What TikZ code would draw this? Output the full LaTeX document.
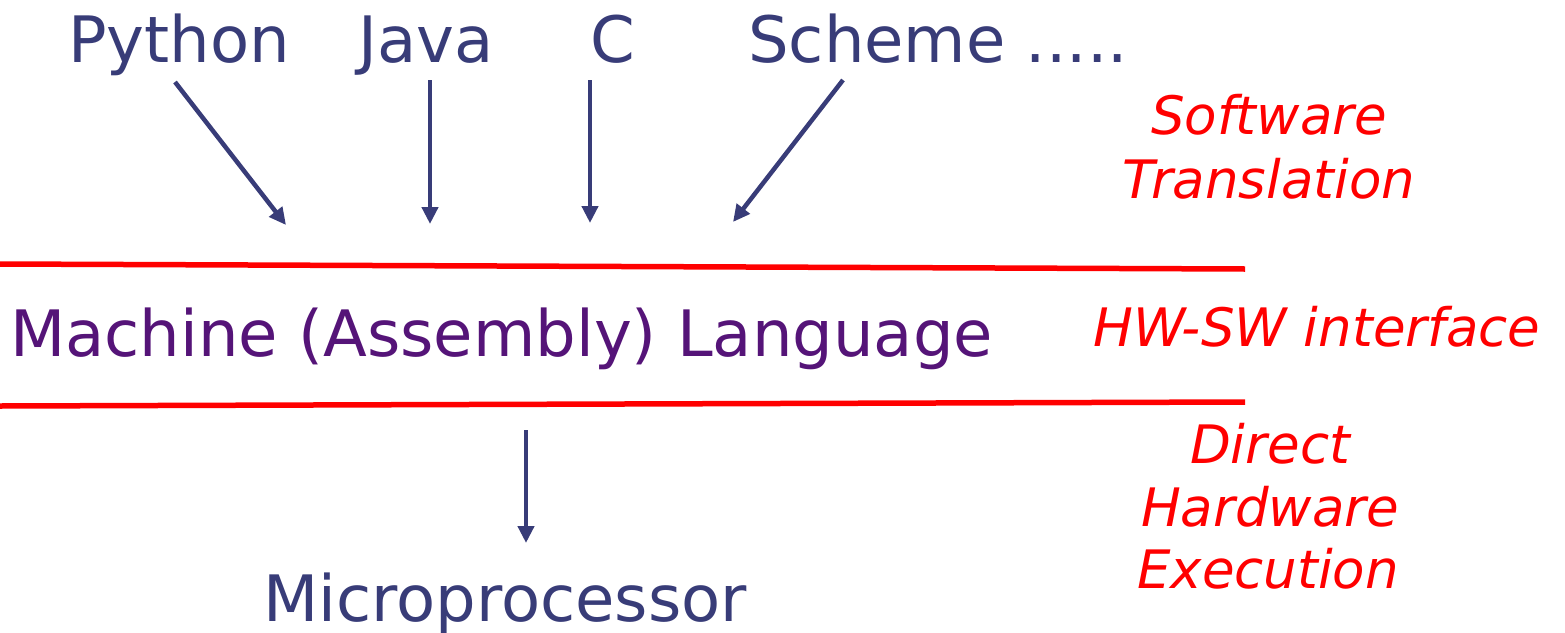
\documentclass[tikz,border=0pt]{standalone}
\usepackage{fontspec}
\setmainfont{DejaVu Sans}
\usetikzlibrary{arrows.meta}
\definecolor{navy}{RGB}{56,60,120}
\definecolor{plum}{RGB}{85,20,120}
\definecolor{pred}{RGB}{255,0,0}
\begin{document}
\begin{tikzpicture}[x=1pt,y=-1pt,
  lang/.style={inner sep=0pt,anchor=base west,text=navy,font=\fontsize{64}{77}\selectfont},
  note/.style={inner sep=0pt,anchor=base,text=pred,align=center,font=\fontsize{53}{63}\selectfont\itshape},
  arr/.style={draw=navy,line width=4.5pt,-{Triangle[length=17pt,width=16pt]}},
  sep/.style={draw=pred,line width=5.5pt}]
\useasboundingbox (0,0) rectangle (1565,632);
\node[lang] (py) at (68,62) {Python};
\node[lang] (jv) at (358,62) {Java};
\node[lang] (c) at (590,62) {C};
\node[lang] (sc) at (748,62) {Scheme .....};
\node[lang,text=plum] (ml) at (10,356) {Machine (Assembly) Language};
\node[lang] (mp) at (263,621) {Microprocessor};
\node[note] (sw) at (1269,134) {Software};
\node[note] (tr) at (1269,198) {Translation};
\node[note] (hs) at (1317,346) {HW-SW interface};
\node[note] (di) at (1270,463) {Direct};
\node[note] (hw) at (1270,526) {Hardware};
\node[note] (ex) at (1268,588) {Execution};
\coordinate (l1a) at (0,264); \coordinate (l1b) at (1245,269);
\coordinate (l2a) at (0,406); \coordinate (l2b) at (1245,402);
\draw[sep] (l1a) -- (l1b);
\draw[sep] (l2a) -- (l2b);
\coordinate (pys) at (175,82); \coordinate (pye) at (286,225);
\coordinate (jvs) at (430,80); \coordinate (jve) at (430,224);
\coordinate (cs) at (590,80); \coordinate (ce) at (590,223);
\coordinate (scs) at (843,80); \coordinate (sce) at (733,222);
\coordinate (mls) at (526,430); \coordinate (mle) at (526,543);
\draw[arr] (pys) -- (pye);
\draw[arr] (jvs) -- (jve);
\draw[arr] (cs) -- (ce);
\draw[arr] (scs) -- (sce);
\draw[arr] (mls) -- (mle);
\end{tikzpicture}
\end{document}
